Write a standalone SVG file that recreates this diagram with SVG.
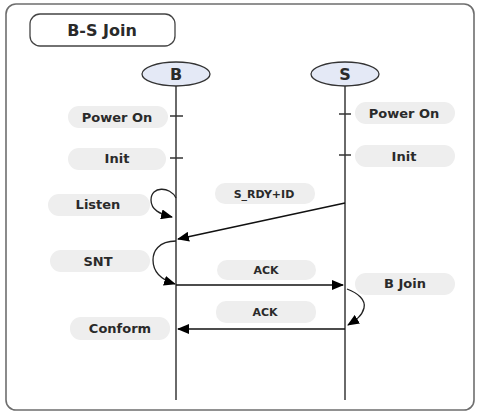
<svg xmlns="http://www.w3.org/2000/svg" width="480" height="416" viewBox="0 0 480 416">
<defs>
<style>
.t{font-family:"DejaVu Sans","Noto Sans","Liberation Sans",sans-serif;font-weight:bold;font-size:13px;fill:#2a2a2a;text-anchor:middle}
.s{font-size:11px}
.pill{fill:#eeeeee;stroke:none}
.life{stroke:#6a6a6a;stroke-width:2;fill:none}
.tick{stroke:#333;stroke-width:1.5}
.msg{stroke:#111;stroke-width:1.6;fill:none}
.loop{stroke:#222;stroke-width:1.3;fill:none}
.actor{fill:#e4e9f6;stroke:#333;stroke-width:1.3}
</style>
<marker id="ah" viewBox="0 0 12 10" refX="11" refY="5" markerWidth="12" markerHeight="10" markerUnits="userSpaceOnUse" orient="auto">
<path d="M0,0 L12,5 L0,10 Z" fill="#000"/>
</marker>
</defs>
<rect x="0" y="0" width="480" height="416" fill="#fff"/>
<rect x="6" y="4" width="468" height="406" rx="10" fill="#fff" stroke="#6e6e6e" stroke-width="1.6"/>

<g id="title">
<rect x="30" y="14" width="145" height="32" rx="10" fill="#fff" stroke="#444" stroke-width="1.3"/>
<text class="t" x="102" y="36" style="font-size:16px">B-S Join</text>
</g>

<g id="lifelines">
<line class="life" x1="176" y1="86" x2="176" y2="400"/>
<line class="life" x1="345" y1="86" x2="345" y2="400"/>
<line class="tick" x1="170" y1="116" x2="183" y2="116"/>
<line class="tick" x1="170" y1="158" x2="183" y2="158"/>
<line class="tick" x1="339" y1="114" x2="351" y2="114"/>
<line class="tick" x1="339" y1="155" x2="351" y2="155"/>
</g>

<g id="B">
<ellipse class="actor" cx="176" cy="74" rx="34" ry="12"/>
<text class="t" x="176" y="80" style="font-size:16px">B</text>
</g>
<g id="S">
<ellipse class="actor" cx="345" cy="74" rx="34" ry="12"/>
<text class="t" x="345" y="80" style="font-size:16px">S</text>
</g>

<g id="b-poweron"><rect class="pill" x="68" y="106" width="100" height="22" rx="11"/><text class="t" x="117" y="122">Power On</text></g>
<g id="b-init"><rect class="pill" x="68" y="148" width="98" height="22" rx="11"/><text class="t" x="117" y="163">Init</text></g>
<g id="b-listen"><rect class="pill" x="48" y="194" width="102" height="22" rx="11"/><text class="t" x="98" y="209">Listen</text></g>
<g id="b-snt"><rect class="pill" x="50" y="250" width="100" height="22" rx="11"/><text class="t" x="98" y="266">SNT</text></g>
<g id="b-conform"><rect class="pill" x="70" y="317" width="100" height="23" rx="11"/><text class="t" x="120" y="333">Conform</text></g>
<g id="s-poweron"><rect class="pill" x="355" y="102" width="100" height="22" rx="11"/><text class="t" x="404" y="118">Power On</text></g>
<g id="s-init"><rect class="pill" x="355" y="145" width="100" height="22" rx="11"/><text class="t" x="404" y="161">Init</text></g>
<g id="s-bjoin"><rect class="pill" x="355" y="273" width="100" height="22" rx="11"/><text class="t" x="405" y="288">B Join</text></g>
<g id="l-srdy"><rect class="pill" x="215" y="183" width="100" height="21" rx="10"/><text class="t s" x="264" y="198">S_RDY+ID</text></g>
<g id="l-ack1"><rect class="pill" x="217" y="260" width="99" height="20" rx="10"/><text class="t s" x="266" y="274">ACK</text></g>
<g id="l-ack2"><rect class="pill" x="216" y="301" width="100" height="22" rx="10"/><text class="t s" x="265" y="316">ACK</text></g>

<g id="connectors">
<path class="msg" d="M345,203 L178,239" marker-end="url(#ah)"/>
<path class="msg" d="M176,285 L343,285" marker-end="url(#ah)"/>
<path class="msg" d="M345,329 L178,329" marker-end="url(#ah)"/>
<path class="loop" d="M176,198 C170,186 151,186 151,200 C151,210 160,214 172,217" marker-end="url(#ah)"/>
<path class="loop" d="M176,241 C158,241 153,252 153,260 C153,272 162,280 175,284" marker-end="url(#ah)"/>
<path class="loop" d="M347,289 C358,293 366,300 364,308 C362,316 356,320 348,325" marker-end="url(#ah)"/>
</g>
</svg>
